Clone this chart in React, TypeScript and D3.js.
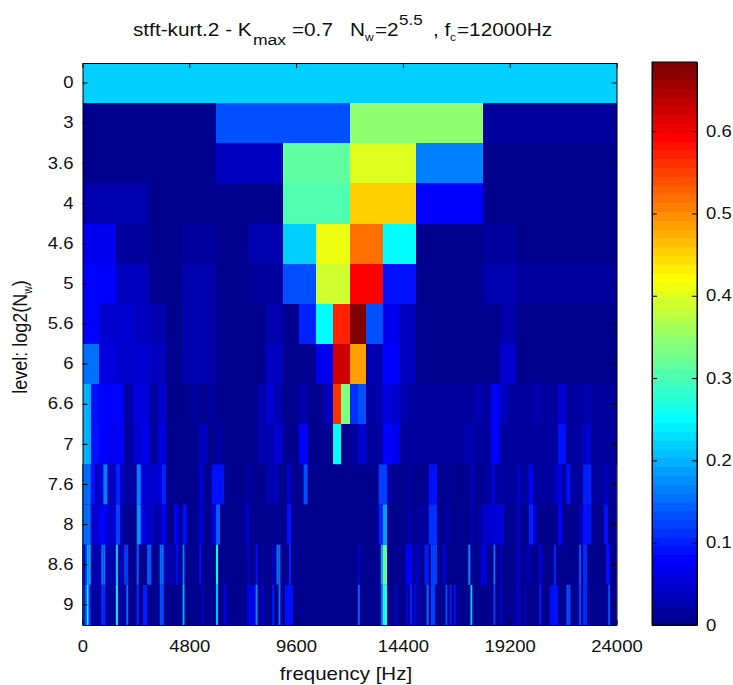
import React, { useEffect, useRef } from "react";
import * as d3 from "d3";

const levelLabels = ["0", "3", "3.6", "4", "4.6", "5", "5.6", "6", "6.6", "7", "7.6", "8", "8.6", "9"];
const freqTicks = [0, 4800, 9600, 14400, 19200, 24000];
const colorTicks = [0, 0.1, 0.2, 0.3, 0.4, 0.5, 0.6];
const kurtMax = 0.684;

// coarse levels, read cell by cell
const row0 = [0.22];
const row3 = [0.005, 0.13, 0.35, 0.012];
const row36 = [0.005, 0.005, 0.04, 0.32, 0.405, 0.17, 0.005, 0.005];
const row4 = [0.025, 0.006, 0.006, 0.305, 0.455, 0.08, 0.006, 0.006];
const row46 = [0.07, 0.02, 0.01, 0.02, 0.01, 0.025, 0.22, 0.41, 0.513, 0.256, 0.008, 0.008, 0.015, 0.008, 0.008, 0.008];
const row5 = [0.085, 0.04, 0.01, 0.025, 0.01, 0.02, 0.13, 0.385, 0.598, 0.09, 0.008, 0.008, 0.025, 0.012, 0.012, 0.012];
const row56 = [
  0.085, 0.045, 0.045, 0.035, 0.03, 0.008, 0.03, 0.03, 0.008, 0.008, 0.008, 0.025, 0.008, 0.105, 0.256, 0.567,
  0.684, 0.13, 0.07, 0.04, 0.008, 0.008, 0.008, 0.008, 0.008, 0.025, 0.008, 0.008, 0.008, 0.008, 0.008, 0.008,
];
const row6 = [
  0.15, 0.06, 0.045, 0.045, 0.035, 0.008, 0.03, 0.03, 0.008, 0.008, 0.008, 0.04, 0.006, 0.008, 0.07, 0.62,
  0.486, 0.03, 0.08, 0.04, 0.006, 0.006, 0.006, 0.006, 0.006, 0.05, 0.006, 0.006, 0.006, 0.006, 0.006, 0.006,
];
const row66 = [
  0.2, 0.09, 0.08, 0.08, 0.08, 0.015, 0.06, 0.06, 0.02, 0.045, 0.008, 0.008, 0.008, 0.02, 0.005, 0.02,
  0.008, 0.008, 0.008, 0.008, 0.008, 0.025, 0.05, 0.03, 0.01, 0.01, 0.03, 0.008, 0.008, 0.04, 0.56, 0.34,
  0.11, 0.13, 0.015, 0.03, 0.055, 0.05, 0.03, 0.012, 0.012, 0.012, 0.012, 0.012, 0.012, 0.012, 0.012, 0.025,
  0.015, 0.075, 0.035, 0.012, 0.012, 0.012, 0.025, 0.012, 0.012, 0.05, 0.012, 0.012, 0.03, 0.012, 0.012, 0.012,
];
const row7 = [
  0.2, 0.09, 0.085, 0.065, 0.085, 0.02, 0.05, 0.065, 0.02, 0.055, 0.005, 0.005, 0.005, 0.005, 0.04, 0.01,
  0.02, 0.01, 0.01, 0.01, 0.01, 0.03, 0.03, 0.05, 0.01, 0.01, 0.085, 0.01, 0.01, 0.01, 0.25, 0.008,
  0.015, 0.045, 0.012, 0.012, 0.075, 0.07, 0.012, 0.012, 0.012, 0.012, 0.012, 0.012, 0.012, 0.012, 0.03, 0.012,
  0.012, 0.085, 0.012, 0.012, 0.012, 0.012, 0.02, 0.012, 0.012, 0.09, 0.012, 0.012, 0.05, 0.012, 0.012, 0.012,
];

// fine levels are mostly floor, so only the raised cells are listed: [from, to, value]
const peaks76 = [
  [0, 1, 0.15], [2, 2, 0.09], [3, 3, 0.04], [4, 4, 0.06], [5, 5, 0.17], [6, 7, 0.04], [8, 8, 0.1], [9, 9, 0.04],
  [10, 12, 0.02], [13, 13, 0.17], [14, 14, 0.06], [15, 17, 0.045], [18, 18, 0.06], [19, 19, 0.1], [28, 28, 0.06],
  [31, 33, 0.09], [39, 40, 0.02], [44, 45, 0.03], [46, 46, 0.035], [49, 49, 0.05], [53, 53, 0.13],
  [71, 72, 0.12], [73, 73, 0.03], [78, 78, 0.02], [83, 84, 0.09], [87, 87, 0.02], [93, 93, 0.04],
  [96, 127, 0.018], [98, 98, 0.06], [104, 104, 0.05], [107, 107, 0.085], [113, 113, 0.04], [114, 114, 0.06],
  [116, 116, 0.09], [120, 121, 0.1], [125, 125, 0.04],
];
const peaks8 = [
  [0, 1, 0.16], [2, 3, 0.05], [4, 5, 0.08], [6, 7, 0.045], [8, 8, 0.12], [9, 9, 0.03], [13, 13, 0.18], [14, 14, 0.07],
  [15, 16, 0.05], [17, 18, 0.03], [19, 19, 0.085], [22, 22, 0.08], [24, 24, 0.09], [28, 28, 0.06],
  [31, 31, 0.06], [32, 32, 0.14], [39, 39, 0.045], [49, 49, 0.09],
  [71, 71, 0.1], [72, 72, 0.19], [78, 78, 0.03], [80, 82, 0.02], [83, 84, 0.11], [87, 87, 0.03], [93, 93, 0.03], [95, 95, 0.03],
  [96, 97, 0.045], [98, 99, 0.06], [100, 100, 0.06], [104, 104, 0.035], [107, 107, 0.1], [108, 108, 0.05],
  [114, 114, 0.085], [119, 119, 0.04], [120, 121, 0.09], [125, 125, 0.09],
];
const peaks86 = [
  [0, 1, 0.1], [2, 3, 0.2], [4, 8, 0.03], [9, 10, 0.15], [11, 15, 0.03], [16, 16, 0.22], [17, 19, 0.03], [20, 21, 0.12],
  [26, 26, 0.14], [31, 32, 0.14], [37, 38, 0.16], [39, 44, 0.03], [45, 45, 0.09], [48, 48, 0.17], [56, 56, 0.09],
  [64, 64, 0.25], [79, 79, 0.05], [83, 83, 0.09], [86, 86, 0.03], [91, 91, 0.05], [93, 94, 0.15], [99, 99, 0.1],
  [132, 132, 0.06], [143, 143, 0.2], [144, 145, 0.31], [155, 157, 0.08], [159, 161, 0.04], [164, 165, 0.1], [167, 169, 0.12], [173, 173, 0.08], [185, 185, 0.18],
  [191, 193, 0.06], [197, 197, 0.15], [200, 200, 0.04], [208, 209, 0.05], [212, 214, 0.03], [219, 219, 0.085],
  [226, 226, 0.1], [238, 238, 0.13], [240, 241, 0.11], [251, 252, 0.09],
];
const peaks9 = [
  [0, 1, 0.12], [2, 2, 0.25], [3, 3, 0.1], [4, 8, 0.02], [9, 10, 0.11], [11, 15, 0.02], [16, 16, 0.24], [17, 20, 0.02], [21, 21, 0.15],
  [26, 26, 0.11], [29, 30, 0.1], [37, 38, 0.13], [48, 48, 0.2], [57, 57, 0.05],
  [64, 64, 0.21], [68, 68, 0.08], [79, 82, 0.07], [83, 83, 0.18], [86, 86, 0.06], [91, 91, 0.1], [94, 94, 0.15], [97, 100, 0.09],
  [132, 132, 0.14], [143, 143, 0.16], [144, 145, 0.27], [150, 150, 0.05], [155, 155, 0.07], [157, 157, 0.1], [159, 159, 0.08], [161, 161, 0.04],
  [165, 165, 0.15], [167, 168, 0.12], [174, 174, 0.13], [176, 176, 0.1], [178, 178, 0.09], [186, 186, 0.22],
  [197, 197, 0.12], [200, 200, 0.05], [208, 209, 0.05], [212, 212, 0.04], [219, 219, 0.1], [224, 227, 0.09],
  [232, 233, 0.13], [238, 238, 0.12], [240, 241, 0.11], [252, 252, 0.13],
];

const fineFloor = 0.008;
const fineRow = (n: number, peaks: number[][]) => {
  const row = new Array(n).fill(fineFloor);
  peaks.forEach(([from, to, v]) => {
    for (let i = from; i <= to; i++) row[i] = v;
  });
  return row;
};

const rows = [
  row0, row3, row36, row4, row46, row5, row56, row6, row66, row7,
  fineRow(128, peaks76),
  fineRow(128, peaks8),
  fineRow(256, peaks86),
  fineRow(256, peaks9),
];

// matlab jet(64)
const jet = d3.range(64).map((i) => {
  const t = (i + 1) / 64;
  const ramp = (c: number) => Math.max(0, Math.min(1, 1.5 - Math.abs(4 * t - c)));
  return d3.rgb(ramp(3) * 255, ramp(2) * 255, ramp(1) * 255).formatHex();
});

const font = "'Liberation Sans', Arial, sans-serif";
// the source figure was resized wider than tall, so its text is stretched too
const stretch = 1.14;
const widen = (sel: any, origin: string) =>
  sel
    .style("transform-box", "fill-box")
    .style("transform-origin", origin)
    .style("transform", `scaleX(${stretch})`);

const App = () => {
  const ref = useRef<SVGSVGElement>(null);

  useEffect(() => {
    const svg = d3.select(ref.current);
    svg.selectAll("*").remove();

    const plot = { left: 82.5, right: 616.5, top: 63, bottom: 625 };
    const bar = { left: 652, right: 697, top: 62, bottom: 625 };

    const x = d3.scaleLinear().domain([0, 24000]).range([plot.left, plot.right]);
    const y = d3.scaleBand().domain(levelLabels).range([plot.top, plot.bottom]);
    const color = d3.scaleQuantize<string>().domain([0, kurtMax]).range(jet);

    // kurtogram cells
    rows.forEach((row, r) => {
      const band = d3.scaleBand<number>().domain(d3.range(row.length)).range(x.domain());
      const fine = row.length > 64;
      const g = svg.append("g");
      // narrow cells stay antialiased, on a backing of the floor colour
      if (fine) {
        g.append("rect")
          .attr("x", plot.left)
          .attr("y", y(levelLabels[r])!)
          .attr("width", plot.right - plot.left)
          .attr("height", y.bandwidth() + 0.5)
          .attr("fill", color(fineFloor));
      } else {
        g.attr("shape-rendering", "crispEdges");
      }
      g.selectAll("rect.cell")
        .data(row)
        .enter()
        .append("rect")
        .attr("class", "cell")
        .attr("x", (d, i) => x(band(i)!))
        .attr("y", y(levelLabels[r])!)
        .attr("width", x(band.bandwidth()) - x(0) + (fine ? 0 : 0.5))
        .attr("height", y.bandwidth() + 0.5)
        .attr("fill", (d) => color(d));
    });

    // colorbar
    const cb = d3.scaleLinear().domain([0, kurtMax]).range([bar.bottom, bar.top]);
    const steps = d3.scaleBand<number>().domain(d3.range(64)).range([0, kurtMax]);
    svg
      .append("g")
      .attr("shape-rendering", "crispEdges")
      .selectAll("rect")
      .data(jet)
      .enter()
      .append("rect")
      .attr("x", bar.left)
      .attr("y", (d, i) => cb(steps(i)! + steps.bandwidth()))
      .attr("width", bar.right - bar.left)
      .attr("height", cb(0) - cb(steps.bandwidth()) + 0.5)
      .attr("fill", (d) => d);

    const styleAxis = (origin: string) => (g: any) => {
      g.selectAll("path").attr("stroke", "#000").attr("stroke-width", 1);
      g.selectAll("line").attr("stroke", "#000").attr("stroke-width", 1);
      g.attr("font-family", font);
      widen(g.selectAll("text").attr("font-family", font).attr("font-size", 16.2).attr("fill", "#111"), origin);
    };
    const tr = (a: number, b: number) => `translate(${a},${b})`;

    svg.append("g").attr("transform", tr(0, plot.bottom))
      .call(d3.axisBottom(x).tickValues(freqTicks).tickFormat(d3.format("d")).tickSizeInner(-5).tickSizeOuter(0).tickPadding(15.5))
      .call(styleAxis("50% 50%"));
    svg.append("g").attr("transform", tr(0, plot.top))
      .call(d3.axisTop(x).tickValues(freqTicks).tickFormat(() => "").tickSizeInner(-5).tickSizeOuter(0))
      .call(styleAxis("50% 50%"));
    svg.append("g").attr("transform", tr(plot.left, 0))
      .call(d3.axisLeft(y).tickSizeInner(-5).tickSizeOuter(0).tickPadding(9))
      .call(styleAxis("100% 50%"));
    svg.append("g").attr("transform", tr(plot.right, 0))
      .call(d3.axisRight(y).tickFormat(() => "").tickSizeInner(-5).tickSizeOuter(0))
      .call(styleAxis("0% 50%"));

    svg.append("g").attr("transform", tr(bar.right, 0))
      .call(d3.axisRight(cb).tickValues(colorTicks).tickFormat(d3.format("~g")).tickSizeInner(-5).tickSizeOuter(0).tickPadding(9))
      .call(styleAxis("0% 50%"));
    svg.append("g").attr("transform", tr(bar.left, 0))
      .call(d3.axisLeft(cb).tickValues(colorTicks).tickFormat(() => "").tickSizeInner(-5).tickSizeOuter(0))
      .call(styleAxis("100% 50%"));
    svg.append("rect").attr("x", bar.left).attr("y", bar.top).attr("width", bar.right - bar.left)
      .attr("height", bar.bottom - bar.top).attr("fill", "none").attr("stroke", "#000");

    // title pieces, matlab tex style
    const title: [string, number, number, number][] = [
      ["stft-kurt.2 - K", 133, 36, 18.2],
      ["max", 253, 45, 15.4],
      ["=0.7", 292, 36, 18.2],
      ["N", 350, 36, 18.2],
      ["w", 365, 41, 10.5],
      ["=2", 375, 36, 18.2],
      ["5.5", 399, 25.5, 15],
      [", f", 433, 36, 18.2],
      ["c", 450, 41, 10.5],
      ["=12000Hz", 457, 36, 18.2],
    ];
    const titleText = svg.append("g").selectAll("text").data(title).enter().append("text")
      .attr("x", (d) => d[1]).attr("y", (d) => d[2]).attr("font-size", (d) => d[3])
      .attr("font-family", font).attr("fill", "#111").text((d) => d[0]);
    widen(titleText, "0% 50%");

    const xl = svg.append("text").attr("x", 346).attr("y", 680).attr("text-anchor", "middle")
      .attr("font-family", font).attr("font-size", 18).attr("fill", "#111").text("frequency [Hz]");
    widen(xl, "50% 50%");

    const yl = svg.append("text").attr("transform", `translate(27,337) rotate(-90) scale(1,${stretch})`).attr("text-anchor", "middle")
      .attr("font-family", font).attr("font-size", 18).attr("fill", "#111");
    yl.append("tspan").text("level: log2(N");
    yl.append("tspan").attr("font-size", 10.5).attr("dy", 4).text("w");
    yl.append("tspan").attr("dy", -4).text(")");
  }, []);

  return <svg ref={ref} width={733} height={685} style={{ position: "absolute", left: 0, top: 0 }} />;
};

export default App;
